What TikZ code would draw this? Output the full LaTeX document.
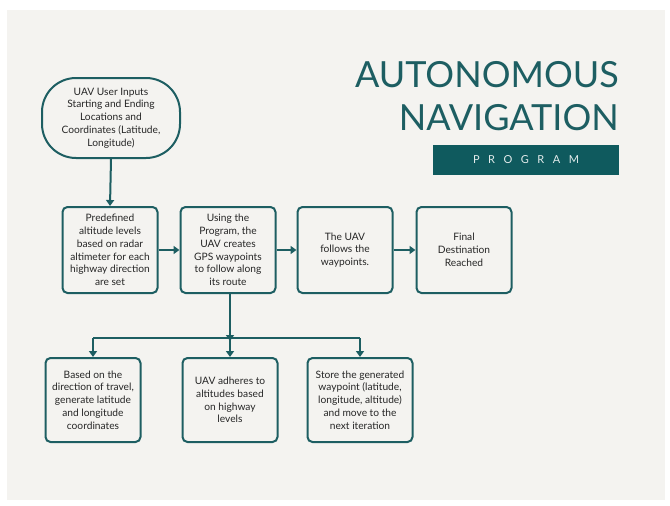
\documentclass[tikz,border=0pt]{standalone}
\usepackage{fontspec}
\setmainfont{Lato}
\usetikzlibrary{arrows.meta}
\definecolor{teal1}{HTML}{1D5E62}
\definecolor{bannerc}{HTML}{0F5A5E}
\definecolor{paper}{HTML}{F4F3F0}
\begin{document}
\begin{tikzpicture}[x=1pt,y=-1pt,
  stepbox/.style={draw=teal1,line width=2pt,rounded corners=5pt,align=center,
    font=\fontsize{10.2}{12.8}\selectfont,text=black!85,inner sep=0pt},
  conn/.style={draw=teal1,line width=2pt},
  arr/.style={conn,-{Triangle[length=6pt,width=8pt]}}]
\useasboundingbox (0,0) rectangle (670,506);
\fill[white] (0,0) rectangle (670,506);
\fill[paper] (7,10) rectangle (665,500);
% title
\node[anchor=east,text=teal1,font=\fontsize{36}{40}\selectfont,inner sep=0pt] (t1) at (619,75) {AUTONOMOUS};
\node[anchor=east,text=teal1,font=\fontsize{36}{40}\selectfont,inner sep=0pt] (t2) at (619,118) {NAVIGATION};
\node[fill=bannerc,minimum width=186pt,minimum height=30pt,inner sep=0pt,
  text=white!88!teal1,font=\fontsize{11}{12}\selectfont] (ban) at (526,160)
  {P\hspace{8.5pt}R\hspace{8.5pt}O\hspace{8.5pt}G\hspace{8.5pt}R\hspace{8.5pt}A\hspace{8.5pt}M};
% start
\node[stepbox,rounded corners=34pt,minimum width=138pt,minimum height=80pt] (start) at (111,118)
  {UAV User Inputs\\Starting and Ending\\Locations and\\Coordinates (Latitude,\\Longitude)};
% row 1
\node[stepbox,minimum width=95pt,minimum height=86pt] (b1) at (110,250)
  {Predefined\\altitude levels\\based on radar\\altimeter for each\\highway direction\\are set};
\node[stepbox,minimum width=95pt,minimum height=86pt] (b2) at (228,250)
  {Using the\\Program, the\\UAV creates\\GPS waypoints\\to follow along\\its route};
\node[stepbox,minimum width=95pt,minimum height=86pt] (b3) at (345,250)
  {The UAV\\follows the\\waypoints.};
\node[stepbox,minimum width=95pt,minimum height=86pt] (b4) at (464,250)
  {Final\\Destination\\Reached};
% row 2
\node[stepbox,minimum width=95pt,minimum height=84pt] (c1) at (93,400)
  {Based on the\\direction of travel,\\generate latitude\\and longitude\\coordinates};
\node[stepbox,minimum width=95pt,minimum height=84pt] (c2) at (230,400)
  {UAV adheres to\\altitudes based\\on highway\\levels};
\node[stepbox,minimum width=105pt,minimum height=84pt] (c3) at (360,400)
  {Store the generated\\waypoint (latitude,\\longitude, altitude)\\and move to the\\next iteration};
% connectors
\draw[arr] (start.south) -- (b1.north);
\draw[arr] (b1) -- (b2);
\draw[arr] (b2) -- (b3);
\draw[arr] (b3) -- (b4);
\coordinate (j) at (230,338);
\draw[arr] (b2.south -| j) -- ([yshift=-3pt]j);
\draw[conn] (c1.north |- j) -- (c3.north |- j);
\draw[arr] (c1.north |- j) -- (c1.north);
\draw[arr] (j) -- (c2.north);
\draw[arr] (c3.north |- j) -- (c3.north);
\end{tikzpicture}
\end{document}
